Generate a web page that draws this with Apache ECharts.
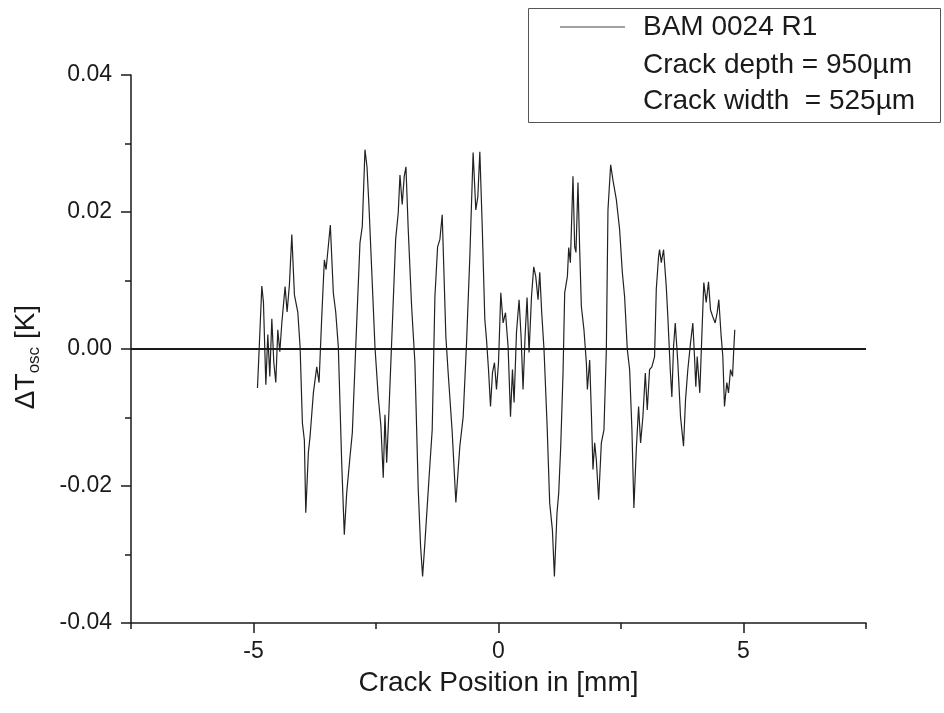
<!DOCTYPE html>
<html>
<head>
<meta charset="utf-8">
<script src="https://cdn.jsdelivr.net/npm/echarts@6/dist/echarts.min.js"></script>
<style>
html,body{margin:0;padding:0;background:#fff;}
#chart{width:944px;height:713px;}
</style>
</head>
<body>
<div id="chart"></div>
<script>
// ---- data ----
const seriesName = 'BAM 0024 R1';
const legendLines = ['Crack depth = 950\u00b5m', 'Crack width  = 525\u00b5m'];
const xTickLabels = [-5, 0, 5];
const yTickLabels = [-0.04, -0.02, 0.00, 0.02, 0.04];

const xValues = [
  -4.919,-4.885,-4.830,-4.797,-4.748,-4.708,-4.667,-4.626,-4.585,-4.545,
  -4.504,-4.463,-4.422,-4.355,-4.314,-4.267,-4.218,-4.165,-4.096,-4.049,
  -4.002,-3.962,-3.933,-3.880,-3.846,-3.778,-3.709,-3.662,-3.607,-3.554,
  -3.519,-3.432,-3.371,-3.322,-3.269,-3.200,-3.147,-3.098,-3.030,-2.983,
  -2.894,-2.827,-2.780,-2.725,-2.684,-2.643,-2.588,-2.521,-2.454,-2.399,
  -2.352,-2.317,-2.282,-2.235,-2.181,-2.099,-2.046,-2.011,-1.965,-1.924,
  -1.889,-1.842,-1.773,-1.706,-1.638,-1.590,-1.549,-1.502,-1.420,-1.353,
  -1.298,-1.243,-1.196,-1.149,-1.109,-1.074,-1.027,-0.946,-0.870,-0.789,
  -0.721,-0.652,-0.585,-0.518,-0.463,-0.422,-0.381,-0.334,-0.279,-0.245,
  -0.204,-0.163,-0.122,-0.082,-0.041,0.000,0.047,0.094,0.143,0.196,
  0.245,0.285,0.318,0.367,0.420,0.461,0.501,0.542,0.583,0.624,
  0.673,0.719,0.760,0.807,0.842,0.882,0.929,0.990,1.045,1.100,
  1.141,1.194,1.229,1.270,1.317,1.351,1.406,1.433,1.467,1.520,
  1.555,1.581,1.622,1.657,1.691,1.744,1.793,1.814,1.861,1.895,
  1.928,1.963,1.997,2.044,2.099,2.152,2.201,2.234,2.289,2.335,
  2.405,2.472,2.527,2.574,2.629,2.676,2.723,2.763,2.812,2.859,
  2.900,2.947,2.996,3.036,3.083,3.130,3.185,3.220,3.267,3.287,
  3.322,3.369,3.424,3.456,3.505,3.538,3.572,3.607,3.660,3.715,
  3.776,3.817,3.864,3.919,3.966,4.000,4.027,4.055,4.108,4.149,
  4.190,4.239,4.286,4.327,4.373,4.422,4.463,4.496,4.545,4.578,
  4.612,4.659,4.694,4.735,4.776,4.801,4.822
];
const yValues = [
  -0.0057,-0.0001,0.0092,0.0068,-0.0052,0.0021,-0.0040,0.0044,-0.0020,-0.0049,
  0.0028,-0.0004,0.0038,0.0091,0.0054,0.0094,0.0167,0.0079,0.0054,0.0003,
  -0.0108,-0.0133,-0.0239,-0.0151,-0.0128,-0.0064,-0.0026,-0.0049,0.0047,0.0130,
  0.0116,0.0181,0.0082,0.0054,0.0003,-0.0166,-0.0271,-0.0210,-0.0157,-0.0122,
  0.0038,0.0155,0.0179,0.0291,0.0266,0.0208,0.0116,0.0003,-0.0070,-0.0113,
  -0.0188,-0.0096,-0.0166,-0.0089,0.0009,0.0160,0.0199,0.0254,0.0211,0.0252,
  0.0266,0.0174,0.0062,-0.0020,-0.0205,-0.0288,-0.0332,-0.0283,-0.0191,-0.0118,
  0.0076,0.0149,0.0160,0.0196,0.0101,0.0018,-0.0035,-0.0120,-0.0224,-0.0142,
  -0.0099,0.0009,0.0135,0.0287,0.0203,0.0222,0.0288,0.0184,0.0043,0.0014,
  -0.0030,-0.0084,-0.0034,-0.0020,-0.0059,-0.0020,0.0082,0.0038,0.0053,0.0003,
  -0.0099,-0.0030,-0.0078,0.0024,0.0072,0.0018,-0.0059,0.0018,0.0075,-0.0005,
  0.0076,0.0120,0.0106,0.0072,0.0112,0.0053,-0.0001,-0.0108,-0.0225,-0.0264,
  -0.0332,-0.0239,-0.0210,-0.0142,-0.0035,0.0082,0.0106,0.0148,0.0126,0.0252,
  0.0149,0.0141,0.0243,0.0145,0.0062,0.0028,-0.0020,-0.0059,-0.0016,-0.0093,
  -0.0176,-0.0137,-0.0162,-0.0220,-0.0137,-0.0118,-0.0001,0.0203,0.0269,0.0247,
  0.0218,0.0174,0.0112,0.0076,-0.0001,-0.0030,-0.0118,-0.0232,-0.0147,-0.0084,
  -0.0137,-0.0099,-0.0035,-0.0089,-0.0030,-0.0026,-0.0011,0.0087,0.0135,0.0145,
  0.0126,0.0145,0.0091,0.0047,-0.0030,-0.0070,0.0003,0.0038,-0.0020,-0.0099,
  -0.0142,-0.0074,-0.0030,0.0009,0.0038,-0.0011,-0.0055,-0.0011,-0.0064,0.0018,
  0.0097,0.0068,0.0098,0.0057,0.0047,0.0038,0.0053,0.0072,0.0018,-0.0011,
  -0.0084,-0.0049,-0.0064,-0.0030,-0.0040,-0.0001,0.0028
];

// ---- chart ----
const FONT = '"Liberation Sans", Arial, sans-serif';
const INK = '#1a1a1a';
const chart = echarts.init(document.getElementById('chart'), null, {renderer: 'canvas'});
const lineData = xValues.map((x, i) => [x, yValues[i]]);

const option = {
  animation: false,
  backgroundColor: '#fff',
  grid: {left: 131, right: 78, top: 75, bottom: 90, containLabel: false},
  legend: {
    data: [{name: seriesName, icon: 'rect'}],
    left: 560, top: 12, padding: 0,
    itemWidth: 65, itemHeight: 1.2,
    itemStyle: {color: '#444'},
    textStyle: {fontFamily: FONT, fontSize: 28, color: INK, padding: [0, 0, 0, 13], lineHeight: 30},
    selectedMode: false
  },
  graphic: [
    {type: 'rect', shape: {x: 528.5, y: 8.5, width: 412, height: 114},
     style: {fill: 'rgba(0,0,0,0)', stroke: '#555', lineWidth: 1}, silent: true, z: 10},
    {type: 'text', x: 643, y: 65, silent: true, z: 10,
     style: {text: legendLines[0], font: '28px ' + FONT, fill: INK, verticalAlign: 'middle', textVerticalAlign: 'middle'}},
    {type: 'text', x: 643, y: 101, silent: true, z: 10,
     style: {text: legendLines[1], font: '28px ' + FONT, fill: INK, verticalAlign: 'middle', textVerticalAlign: 'middle'}}
  ],
  xAxis: [
    {
      type: 'value', min: -7.5, max: 7.5, interval: 2.5, position: 'bottom',
      name: 'Crack Position in [mm]', nameLocation: 'middle', nameGap: 46,
      nameTextStyle: {fontFamily: FONT, fontSize: 28, color: INK},
      axisLine: {show: true, onZero: false, lineStyle: {color: INK, width: 1.5}},
      axisTick: {show: true, inside: false, length: 10, customValues: xTickLabels, lineStyle: {color: INK, width: 1.5}},
      axisLabel: {show: true, customValues: xTickLabels, margin: 17, fontFamily: FONT, fontSize: 23, color: INK,
                  formatter: v => String(v)},
      splitLine: {show: false}
    },
    {
      type: 'value', min: -7.5, max: 7.5, interval: 2.5, position: 'bottom',
      axisLine: {show: false, onZero: false},
      axisTick: {show: true, inside: false, length: 6, lineStyle: {color: INK, width: 1.5}},
      axisLabel: {show: false},
      splitLine: {show: false}
    }
  ],
  yAxis: {
    type: 'value', min: -0.04, max: 0.04, interval: 0.02,
    name: '{a|\u0394T}{b|osc}{a| [K]}',
    nameLocation: 'middle', nameRotate: 90, nameGap: 88,
    nameTextStyle: {
      fontFamily: FONT, color: INK, padding: [0, 16, 0, 0],
      rich: {
        a: {fontFamily: FONT, fontSize: 28, color: INK, lineHeight: 34},
        b: {fontFamily: FONT, fontSize: 17, color: INK, lineHeight: 17, verticalAlign: 'bottom'}
      }
    },
    axisLine: {show: true, onZero: false, lineStyle: {color: INK, width: 1.5}},
    axisTick: {show: true, inside: false, length: 10, lineStyle: {color: INK, width: 1.5}},
    minorTick: {show: true, splitNumber: 2, length: 6, lineStyle: {color: INK, width: 1.5}},
    axisLabel: {margin: 19, fontFamily: FONT, fontSize: 23, color: INK,
                customValues: yTickLabels,
                formatter: v => Number(v).toFixed(2)},
    splitLine: {show: false}
  },
  series: [{
    name: seriesName,
    type: 'line',
    xAxisIndex: 0,
    data: lineData,
    symbol: 'none',
    lineStyle: {color: '#222', width: 1.2},
    itemStyle: {color: '#222'},
    silent: true,
    markLine: {
      silent: true, symbol: 'none', label: {show: false},
      lineStyle: {color: INK, width: 2, type: 'solid'},
      data: [{yAxis: 0}]
    }
  }]
};
chart.setOption(option);
</script>
</body>
</html>
